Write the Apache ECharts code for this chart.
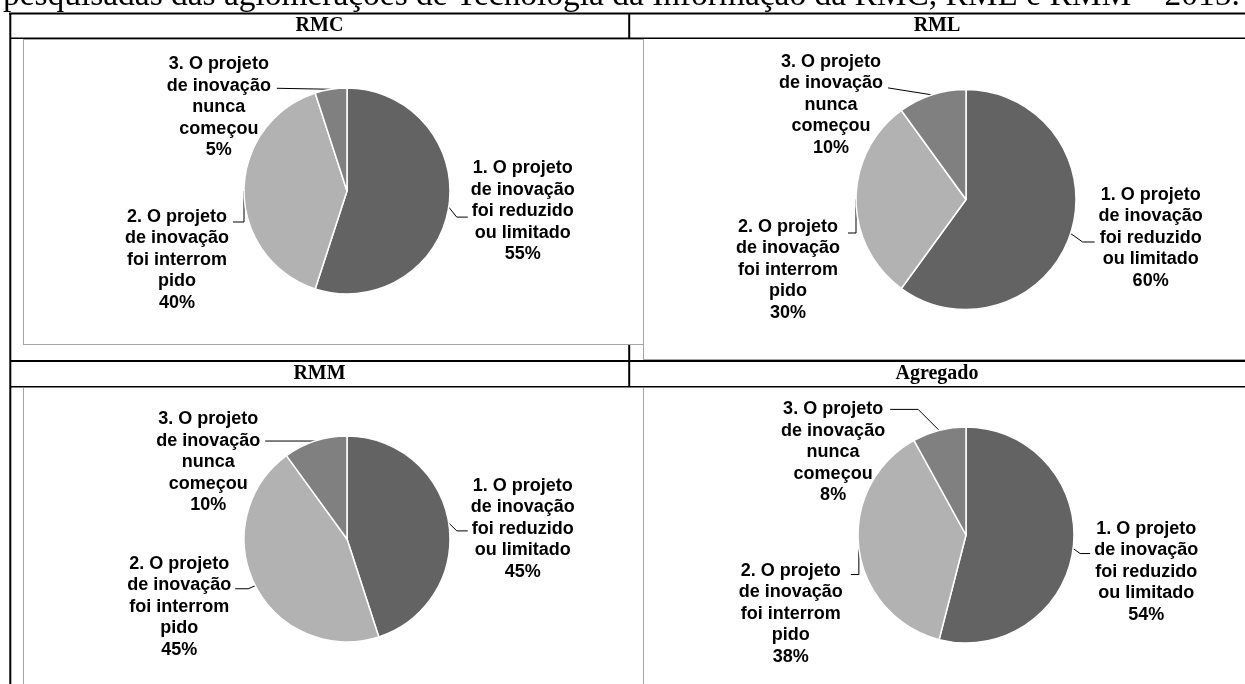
<!DOCTYPE html>
<html>
<head>
<meta charset="utf-8">
<script src="https://cdn.jsdelivr.net/npm/echarts@6/dist/echarts.min.js"></script>
<style>
  html, body { margin: 0; padding: 0; background: #ffffff; }
  #chart { width: 1245px; height: 684px; }
</style>
</head>
<body>
<div id="chart"></div>
<script>
// ---- data ----
const titleText = 'pesquisadas das aglomerações de Tecnologia da Informação da RMC, RML e RMM – 2015.';
const panelTitles = ['RMC', 'RML', 'RMM', 'Agregado'];
const categories = [
  '1. O projeto\nde inovação\nfoi reduzido\nou limitado',
  '2. O projeto\nde inovação\nfoi interrom\npido',
  '3. O projeto\nde inovação\nnunca\ncomeçou'
];
const rmcValues = [55, 40, 5];
const rmlValues = [60, 30, 10];
const rmmValues = [45, 45, 10];
const agregadoValues = [54, 38, 8];

// ---- styling ----
const sliceColors = ['#636363', '#b2b2b2', '#808080'];
const LABEL_FONT = 'Liberation Sans';
const LABEL_SIZE = 18;
const LH = 21.5;
const GRID = '#a6a6a6';

// pie geometry and leader-line shapes (offsets from the slice's mid-edge point)
const panels = [
  { values: rmcValues, center: [347, 191], radius: 103, specs: [
    { pts: [[8, 10], [19, 10]], side: 'right', gap: 3, first: -49 },
    { pts: [[0, 31], [-11, 31]], side: 'left', gap: 4, first: -5 },
    { pts: [[-54, -1]], side: 'left', gap: 6, first: -24 }
  ]},
  { values: rmlValues, center: [966, 199.5], radius: 110, specs: [
    { pts: [[12, 8.5], [24, 8.5]], side: 'right', gap: 4, first: -47 },
    { pts: [[0, 33.5], [-8, 33.5]], side: 'left', gap: 8, first: -6 },
    { pts: [[-44, -7]], side: 'left', gap: 5, first: -26 }
  ]},
  { values: rmmValues, center: [347, 539], radius: 103, specs: [
    { pts: [[8, 8], [19, 8]], side: 'right', gap: 3, first: -45 },
    { pts: [[-7, 3], [-20, 3]], side: 'left', gap: 4, first: -25 },
    { pts: [[-50, 0]], side: 'left', gap: 5, first: -22 }
  ]},
  { values: agregadoValues, center: [966, 535], radius: 108, specs: [
    { pts: [[7, 5], [17, 5]], side: 'right', gap: 4, first: -25 },
    { pts: [[0, 26], [-8, 26]], side: 'left', gap: 8, first: -4 },
    { pts: [[-21, -21], [-49, -21]], side: 'left', gap: 5, first: 0 }
  ]}
];

function makeLabelLayout(p) {
  const total = p.values.reduce((a, b) => a + b, 0);
  const mids = [];
  let acc = 0;
  p.values.forEach(v => {
    mids.push((90 - 360 * (acc + v / 2) / total) * Math.PI / 180);
    acc += v;
  });
  return function (params) {
    const i = params.dataIndex;
    const s = p.specs[i];
    const a = mids[i];
    const ex = p.center[0] + p.radius * Math.cos(a);
    const ey = p.center[1] - p.radius * Math.sin(a);
    const pts = [[ex, ey]].concat(s.pts.map(d => [ex + d[0], ey + d[1]]));
    const end = pts[pts.length - 1];
    const w = params.labelRect.width;
    const x = s.side === 'right' ? end[0] + s.gap + w / 2 : end[0] - s.gap - w / 2;
    return {
      x: x,
      y: end[1] + s.first - LH / 2,
      align: 'center',
      verticalAlign: 'top',
      labelLinePoints: pts
    };
  };
}

const series = panels.map(p => ({
  type: 'pie',
  center: p.center,
  radius: p.radius,
  startAngle: 90,
  clockwise: true,
  avoidLabelOverlap: false,
  silent: true,
  data: p.values.map((v, i) => ({ name: categories[i], value: v })),
  itemStyle: { borderColor: '#ffffff', borderWidth: 1.5 },
  label: {
    show: true,
    position: 'outside',
    formatter: d => d.name + '\n' + d.value + '%',
    fontFamily: LABEL_FONT,
    fontWeight: 'bold',
    fontSize: LABEL_SIZE,
    lineHeight: LH,
    color: '#000000'
  },
  labelLine: { show: true, lineStyle: { color: '#000000', width: 1 } },
  labelLayout: makeLabelLayout(p)
}));

// title font sized to span the page width
const measure = document.createElement('canvas').getContext('2d');
measure.font = '100px "Liberation Serif"';
const titleSize = 1237 / measure.measureText(titleText).width * 100;

function hline(x1, x2, y, w, c) {
  return { type: 'line', silent: true, shape: { x1: x1, y1: y, x2: x2, y2: y }, style: { stroke: c, lineWidth: w } };
}
function vline(x, y1, y2, w, c) {
  return { type: 'line', silent: true, shape: { x1: x, y1: y1, x2: x, y2: y2 }, style: { stroke: c, lineWidth: w } };
}
function txt(t, x, y, font, align) {
  return { type: 'text', silent: true, x: x, y: y,
    style: { text: t, font: font, fill: '#000000', align: align, verticalAlign: 'middle',
             textAlign: align, textVerticalAlign: 'middle' } };
}

const headFont = 'bold 20px "Liberation Serif"';
const graphic = [
  txt(titleText, 3, 7.5 - 0.34 * titleSize, titleSize.toFixed(2) + 'px "Liberation Serif"', 'left'),
  // table rules
  hline(9, 1245, 13.5, 2, '#000'),
  vline(10.3, 13, 684, 2, '#000'),
  hline(10, 1245, 38.3, 1.5, '#000'),
  vline(629.2, 13, 39, 2, '#000'),
  vline(629.2, 344, 387, 2, '#000'),
  hline(10, 1245, 361, 2, '#000'),
  hline(10, 1245, 386.8, 1.5, '#000'),
  // chart frames
  hline(23, 643, 39.5, 1, GRID),
  vline(23.5, 39, 344, 1, GRID),
  hline(23, 643, 344.5, 1, GRID),
  vline(643.5, 39, 359, 1, GRID),
  hline(643, 1245, 359.5, 1, GRID),
  vline(23.5, 388, 684, 1, GRID),
  vline(643.5, 388, 684, 1, GRID),
  // headers
  txt(panelTitles[0], 319.5, 26, headFont, 'center'),
  txt(panelTitles[1], 937, 26, headFont, 'center'),
  txt(panelTitles[2], 319.5, 374, headFont, 'center'),
  txt(panelTitles[3], 937, 374, headFont, 'center')
];

const chart = echarts.init(document.getElementById('chart'), null, { renderer: 'canvas' });
chart.setOption({
  animation: false,
  color: sliceColors,
  graphic: graphic,
  series: series
});
</script>
</body>
</html>
